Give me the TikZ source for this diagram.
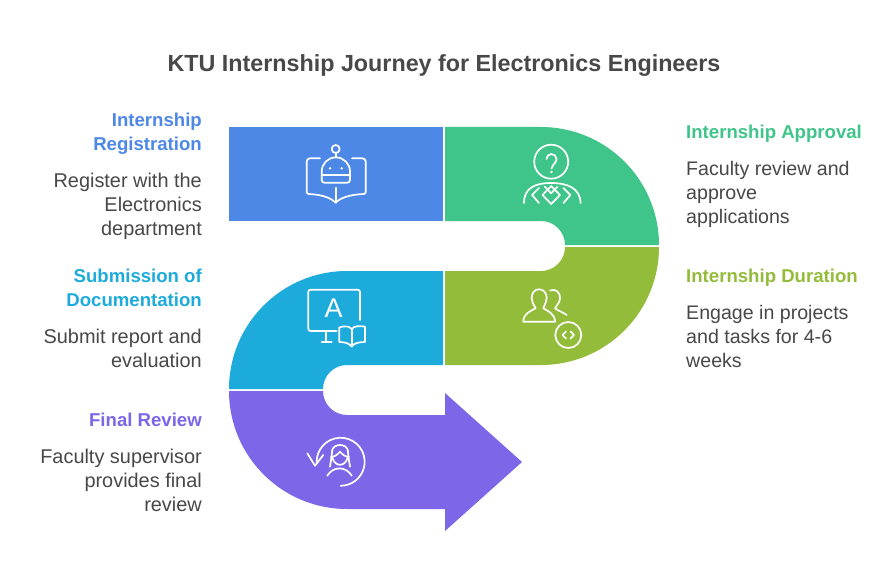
\documentclass[tikz,border=0pt]{standalone}
\usepackage{fontspec}
\setmainfont{Liberation Sans}
\definecolor{regblue}{HTML}{4E88E7}
\definecolor{appgreen}{HTML}{3FC58A}
\definecolor{duraolive}{HTML}{94BC3B}
\definecolor{subcyan}{HTML}{1DABDC}
\definecolor{revpurple}{HTML}{7D66E8}
\definecolor{bodygray}{HTML}{484848}
\begin{document}
\begin{tikzpicture}[
x=1pt,y=-1pt,
R/.style={x radius=#1,y radius=-#1},
Icons/.style={draw=white,line width=1.7pt,line cap=round,line join=round},
Heads/.style={font=\bfseries\fontsize{18.6}{24}\selectfont},
LeftText/.style={align=right,anchor=north east,inner sep=0pt,text=bodygray,font=\fontsize{19.9}{24}\selectfont},
RightText/.style={align=left,anchor=north west,inner sep=0pt,text=bodygray,font=\fontsize{19.6}{24}\selectfont}
]
\useasboundingbox (0,0) rectangle (888,583);
\fill[white] (0,0) rectangle (888,583);

% the band
\fill[regblue] (229,127) rectangle (443,221);
\fill[appgreen] (445,127) -- (541,127) arc[start angle=90,end angle=0,R=118] -- (565,245) arc[start angle=0,end angle=90,R=24] -- (445,221) -- cycle;
\fill[duraolive] (659,247) arc[start angle=0,end angle=-90,R=118] -- (445,365) -- (445,271) -- (541,271) arc[start angle=-90,end angle=0,R=24] -- cycle;
\fill[subcyan] (443,271) -- (347,271) arc[start angle=90,end angle=180,R=118] -- (323,389) arc[start angle=180,end angle=90,R=24] -- (443,365) -- cycle;
\fill[revpurple] (229,391) arc[start angle=180,end angle=270,R=118] -- (445,509) -- (445,531) -- (522,462) -- (445,393) -- (445,415) -- (347,415) arc[start angle=270,end angle=180,R=24] -- cycle;

% title
\node[inner sep=0pt,text=bodygray,font=\bfseries\fontsize{23.3}{28}\selectfont] (title) at (444,66) {KTU Internship Journey for Electronics Engineers};

% left column
\node[LeftText,Heads,text=regblue] (regHead) at (202,113) {Internship\\Registration};
\node[LeftText] (regText) at (202,173) {Register with the\\Electronics\\department};
\node[LeftText,Heads,text=subcyan] (subHead) at (202,269) {Submission of\\Documentation};
\node[LeftText] (subText) at (202,329) {Submit report and\\evaluation};
\node[LeftText,Heads,text=revpurple] (revHead) at (202,413) {Final Review};
\node[LeftText] (revText) at (202,449) {Faculty supervisor\\provides final\\review};

% right column
\node[RightText,Heads,text=appgreen] (appHead) at (686,125) {Internship Approval};
\node[RightText] (appText) at (686,161) {Faculty review and\\approve\\applications};
\node[RightText,Heads,text=duraolive] (durHead) at (686,269) {Internship Duration};
\node[RightText] (durText) at (686,305) {Engage in projects\\and tasks for 4-6\\weeks};

% robot book
\draw[Icons] (335.7,149) circle[R=4];
\draw[Icons] (335.7,153) -- (335.7,157.3);
\draw[Icons] (321.7,180) -- (321.7,171.5) arc[start angle=180,end angle=0,R=14.15] -- (350,180) arc[start angle=0,end angle=-90,R=2.7] -- (324.4,182.7) arc[start angle=-90,end angle=-180,R=2.7];
\draw[Icons] (321.7,175) -- (350,175);
\fill[white] (330,168.3) circle[R=1.3] (341.7,168.3) circle[R=1.3];
\draw[Icons] (320,158.3) -- (310,158.3) arc[start angle=90,end angle=180,R=3.3] -- (306.7,192) arc[start angle=180,end angle=270,R=2] .. controls (320,194.5) and (330,197) .. (335.7,202.7) .. controls (341,197) and (352,194.5) .. (363.7,194) arc[start angle=-90,end angle=0,R=2] -- (365.7,161.6) arc[start angle=0,end angle=90,R=3.3] -- (352,158.3);
\draw[Icons] (335.7,187.7) -- (335.7,202.7);

% person with question
\draw[Icons] (551.2,161.7) circle[R=17];
\draw[Icons] (546.5,159) arc[start angle=180,end angle=-30,R=5] .. controls (554,165) and (551.5,166) .. (551.5,168.5);
\fill[white] (551.5,172) circle[R=1.3];
\draw[Icons] (524,203) .. controls (524,188) and (535,183) .. (551.2,183) .. controls (567,183) and (580.5,188) .. (580.5,203);
\draw[Icons] (539,188) -- (532,195) -- (539,203);
\draw[Icons] (563.4,188) -- (570.4,195) -- (563.4,203);
\draw[Icons] (551.2,186) -- (542.5,195) -- (551.2,204) -- (560,195) -- cycle;
\draw[Icons] (544.8,186.7) -- (551.2,193.3) -- (557.5,186.7);

% monitor and book
\draw[Icons] (360,320) -- (360,292) arc[start angle=0,end angle=90,R=2.3] -- (310.6,289.7) arc[start angle=90,end angle=180,R=2.3] -- (308.3,328.7) arc[start angle=180,end angle=270,R=2.3] -- (336.7,331);
\draw[Icons] (326,331) -- (326,341.7);
\draw[Icons] (321.7,341.7) -- (331.7,341.7);
\node[inner sep=0pt,text=white,font=\fontsize{27}{27}\selectfont] (letterA) at (333.5,308.5) {A};
\draw[Icons] (339.3,342) -- (339.3,327.5) .. controls (345,325.5) and (349,326) .. (351.7,329) .. controls (354,326) and (359,325.5) .. (365,326.7) -- (365,342) .. controls (359,342) and (354,343) .. (351.7,346.5) .. controls (349,343) and (344,342) .. (339.3,342);
\draw[Icons] (351.7,329) -- (351.7,346.5);

% people with code
\draw[Icons] (535.7,308.3) .. controls (533,304) and (531.7,301) .. (531.7,298) .. controls (531.7,293) and (534.5,289.3) .. (539,289.3) .. controls (543.5,289.3) and (546.7,293) .. (546.7,298) .. controls (546.7,301) and (545,304) .. (543.3,308.3) .. controls (548,311) and (555,314) .. (555,321.7) -- (523.3,321.7) .. controls (523.3,314) and (530,311) .. (535.7,308.3);
\draw[Icons] (550,290.5) .. controls (556,288) and (560.5,293) .. (560,298.3) .. controls (560,302) and (557,305) .. (555,308.3) .. controls (558,311) and (563,312) .. (566.7,315);
\draw[Icons] (568.3,335) circle[R=13];
\draw[Icons] (566,331.5) -- (562.5,335) -- (566,338.5);
\draw[Icons] (570.6,331.5) -- (574,335) -- (570.6,338.5);

% person with turn arrow
\draw[Icons] (316.7,463) arc[start angle=183,end angle=-90,R=24];
\draw[Icons] (307.3,453.3) -- (315,465.7) -- (323.3,455);
\draw[Icons] (327.3,475.7) .. controls (333,466) and (346,466) .. (351.7,475.7);
\draw[Icons] (330,466.7) .. controls (331,460) and (332,455) .. (332,451) .. controls (333,443) and (347,443) .. (348,451) .. controls (348,455) and (349,460) .. (350,466.7);
\draw[Icons] (331,457) .. controls (335,456.5) and (337,455) .. (340,451.7) .. controls (343,455) and (345,456.5) .. (349,457);
\draw[Icons] (332.5,458) .. controls (335,467) and (345,467) .. (347.5,458);
\end{tikzpicture}
\end{document}
